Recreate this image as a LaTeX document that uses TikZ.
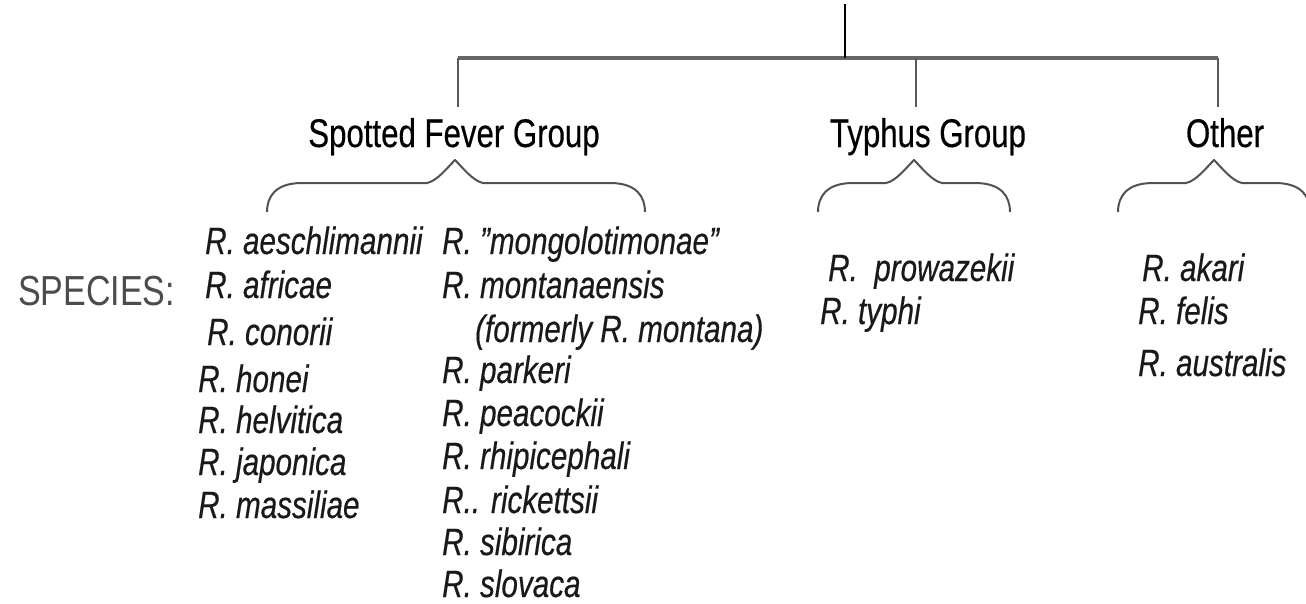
\documentclass[tikz,border=0pt]{standalone}
\usepackage{fontspec}
\setmainfont{Liberation Sans}[FakeStretch=0.78,FakeBold=0.4]
\newfontfamily\labelfont{Liberation Sans}[FakeStretch=0.81]
\begin{document}
\begin{tikzpicture}[x=1pt,y=1pt,
  grp/.style={anchor=base,inner sep=0pt,font=\fontsize{40}{44}\selectfont,text=black},
  sp/.style={anchor=base west,inner sep=0pt,font=\fontsize{38}{40}\selectfont\itshape,text=black!90},
  lbl/.style={anchor=base west,inner sep=0pt,font=\labelfont\fontsize{42}{44}\selectfont,text=black!70},
  bus/.style={draw=black!60,line width=3.2pt},
  drop/.style={draw=black!65,line width=1.8pt},
  trunk/.style={draw=black,line width=2.2pt},
  brace/.style={draw=black!68,line width=2pt,line join=round}]
\useasboundingbox[fill=white] (0,0) rectangle (1306,-603);

% tree lines
\coordinate (root) at (845,-4);
\coordinate (joint) at (845,-58);
\coordinate (bl) at (458,-58);
\coordinate (bm) at (916,-58);
\coordinate (br) at (1218,-58);
\coordinate (dl) at (458,-107);
\coordinate (dm) at (916,-107);
\coordinate (dr) at (1218,-107);
\path[bus] (bl) -- (br);
\path[trunk] (root) -- (joint);
\path[drop] (bl) -- (dl);
\path[drop] (bm) -- (dm);
\path[drop] (br) -- (dr);

% group labels
\node[grp] (sfg) at (454,-147) {Spotted Fever Group};
\node[grp] (tg) at (928,-147) {Typhus Group};
\node[grp] (oth) at (1225,-147) {Other};

% braces
\newcommand{\mybrace}[3]{%
  \path[brace] (#1,-212) .. controls (#1,-196) and (#1+9,-183) .. (#1+35,-183)
    -- (#2-28,-183) .. controls (#2-18,-181) and (#2-8,-168) .. (#2,-160)
    .. controls (#2+8,-168) and (#2+18,-181) .. (#2+28,-183)
    -- (#3-35,-183) .. controls (#3-9,-183) and (#3,-196) .. (#3,-212);}
\mybrace{267}{455}{645}
\mybrace{818}{914}{1010}
\mybrace{1118}{1214}{1310}

% species label
\node[lbl] (species) at (18,-305) {SPECIES:};

% spotted fever column 1
\node[sp] (s1) at (205,-254) {R. aeschlimannii};
\node[sp] (s2) at (205,-298) {R. africae};
\node[sp] (s3) at (207,-345) {R. conorii};
\node[sp] (s4) at (198,-392) {R. honei};
\node[sp] (s5) at (198,-433) {R. helvitica};
\node[sp] (s6) at (198,-475) {R. japonica};
\node[sp] (s7) at (198,-518) {R. massiliae};

% spotted fever column 2
\node[sp] (t1) at (442,-254) {R. "mongolotimonae"};
\node[sp] (t2) at (442,-298) {R. montanaensis};
\node[sp] (t3) at (475,-342) {(formerly R. montana)};
\node[sp] (t4) at (442,-383) {R. parkeri};
\node[sp] (t5) at (442,-426) {R. peacockii};
\node[sp] (t6) at (442,-469) {R. rhipicephali};
\node[sp] (t7) at (442,-513) {R.. rickettsii};
\node[sp] (t8) at (442,-555) {R. sibirica};
\node[sp] (t9) at (442,-597) {R. slovaca};

% typhus
\node[sp] (p1) at (828,-281) {R.\ \ prowazekii};
\node[sp] (p2) at (820,-324) {R. typhi};

% other
\node[sp] (o1) at (1142,-281) {R. akari};
\node[sp] (o2) at (1138,-324) {R. felis};
\node[sp] (o3) at (1138,-376) {R. australis};
\end{tikzpicture}
\end{document}
